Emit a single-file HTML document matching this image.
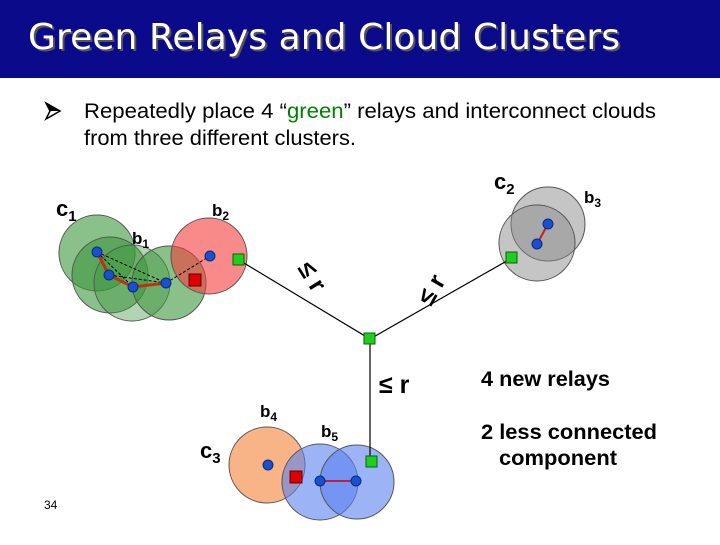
<!DOCTYPE html>
<html><head><meta charset="utf-8"><style>
body{margin:0;width:720px;height:540px;overflow:hidden;background:#fff;font-family:"Liberation Sans",sans-serif}
</style></head><body>
<svg width="720" height="540" xmlns="http://www.w3.org/2000/svg" font-family="Liberation Sans, sans-serif">
<rect x="0" y="0" width="720" height="78" fill="#0a0a8a"/>
<text x="30" y="51" font-size="36" fill="#555" font-family="DejaVu Sans, sans-serif" textLength="592">Green Relays and Cloud Clusters</text>
<text x="28" y="49" font-size="36" fill="#fff" font-family="DejaVu Sans, sans-serif" textLength="592">Green Relays and Cloud Clusters</text>
<path d="M46 103 L60 111 L46 119 L50 111 Z" fill="none" stroke="#000" stroke-width="1.5"/>
<path d="M46 103 L60 111 L50 111 Z" fill="#000"/>
<text x="84" y="118" font-size="21.5" textLength="572" lengthAdjust="spacingAndGlyphs">Repeatedly place 4 “<tspan fill="#008000">green</tspan>” relays and interconnect clouds</text>
<text x="84" y="145" font-size="21.5" textLength="272" lengthAdjust="spacingAndGlyphs">from three different clusters.</text>
<g stroke="#555" stroke-width="1">
<circle cx="97" cy="253" r="38" fill="rgba(60,150,60,0.6)"/>
<circle cx="110" cy="275" r="38" fill="rgba(60,150,60,0.6)"/>
<circle cx="132" cy="283" r="38" fill="rgba(60,150,60,0.4)"/>
<circle cx="169" cy="283" r="37" fill="rgba(60,150,60,0.6)"/>
<circle cx="209" cy="256" r="38" fill="rgba(245,60,60,0.6)"/>
<circle cx="548" cy="224" r="37" fill="rgba(140,140,140,0.5)"/>
<circle cx="537" cy="243" r="38" fill="rgba(140,140,140,0.5)"/>
<circle cx="267" cy="465" r="38" fill="rgba(245,140,70,0.65)"/>
<circle cx="320" cy="482" r="38" fill="rgba(90,130,240,0.6)"/>
<circle cx="357" cy="482" r="37" fill="rgba(90,130,240,0.6)"/>
</g>
<g stroke="#000" stroke-width="1" stroke-dasharray="3,2" fill="none">
<path d="M97 252 L166 283 M97 252 L133 287 M109 275 L166 283 M166 283 L210 256"/>
</g>
<path d="M97 252 L109 275 L133 287 L166 283" stroke="#c03010" stroke-width="3" fill="none"/>
<path d="M548 224 L537 244" stroke="#c02020" stroke-width="2"/>
<path d="M320 481 L356 481" stroke="#c02040" stroke-width="2"/>
<path d="M239 260 L370 339 L512 258 M370 339 L370 462" stroke="#000" stroke-width="1.2" fill="none"/>
<g fill="#1a4fd0" stroke="#0a2a80">
<circle cx="97" cy="252" r="5"/><circle cx="109" cy="275" r="5"/><circle cx="133" cy="287" r="5"/><circle cx="166" cy="283" r="5"/><circle cx="210" cy="256" r="5"/>
<circle cx="548" cy="224" r="5"/><circle cx="537" cy="244" r="5"/>
<circle cx="268" cy="465" r="5"/><circle cx="320" cy="481" r="5"/><circle cx="356" cy="481" r="5"/>
</g>
<g fill="#2c2" stroke="#060">
<rect x="233" y="254" width="11" height="11"/><rect x="506" y="252" width="11" height="11"/>
<rect x="364" y="333" width="11" height="11"/><rect x="366" y="456" width="11" height="11"/>
</g>
<g fill="#d00" stroke="#600">
<rect x="189" y="274" width="12" height="12"/><rect x="290" y="471" width="12" height="12"/>
</g>
<g font-weight="bold">
<text x="56" y="216" font-size="22">c<tspan font-size="15" dy="5">1</tspan></text>
<text x="132" y="244" font-size="17">b<tspan font-size="12" dy="4">1</tspan></text>
<text x="212" y="216" font-size="17">b<tspan font-size="12" dy="4">2</tspan></text>
<text x="494" y="189" font-size="22">c<tspan font-size="15" dy="5">2</tspan></text>
<text x="584" y="203" font-size="17">b<tspan font-size="12" dy="4">3</tspan></text>
<text x="260" y="417" font-size="17">b<tspan font-size="12" dy="4">4</tspan></text>
<text x="321" y="437" font-size="17">b<tspan font-size="12" dy="4">5</tspan></text>
<text x="200" y="458" font-size="22">c<tspan font-size="15" dy="5">3</tspan></text>
<text transform="translate(297,268) rotate(58)" font-size="25">≤ r</text>
<text transform="translate(431,307) rotate(-60)" font-size="25">≤ r</text>
<text x="379" y="393" font-size="25">≤ r</text>
<text x="481" y="386" font-size="21" textLength="129" lengthAdjust="spacingAndGlyphs">4 new relays</text>
<text x="481" y="439" font-size="21" textLength="176" lengthAdjust="spacingAndGlyphs">2 less connected</text>
<text x="499" y="465" font-size="21" textLength="118" lengthAdjust="spacingAndGlyphs">component</text>
</g>
<text x="44" y="509" font-size="12">34</text>
</svg>
</body></html>
